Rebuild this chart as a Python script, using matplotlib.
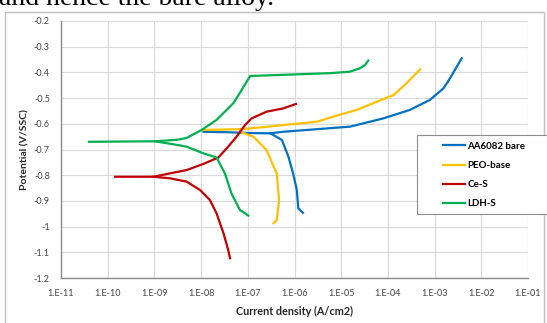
import matplotlib.pyplot as plt
import numpy as np
from matplotlib.patches import Rectangle

# %%
# polarisation curves: log10(current density) and potential (V/SSC)
bare_logi = [-7.95, -7.4, -6.95, -6.52, -6.24, -5.52, -4.81, -4.10, -3.53, -3.10, -2.81, -2.67, -2.42]
bare_v = [-0.631, -0.633, -0.636, -0.637, -0.631, -0.621, -0.611, -0.579, -0.546, -0.507, -0.462, -0.423, -0.345]
bare_cat_logi = [-6.52, -6.45, -6.27, -6.13, -6.03, -5.95, -5.92, -5.82]
bare_cat_v = [-0.637, -0.644, -0.663, -0.728, -0.793, -0.858, -0.929, -0.946]

peo_logi = [-7.95, -7.17, -6.95, -6.24, -5.52, -5.17, -4.67, -4.24, -3.88, -3.60, -3.31]
peo_v = [-0.624, -0.621, -0.618, -0.605, -0.592, -0.572, -0.546, -0.514, -0.488, -0.442, -0.388]
peo_cat_logi = [-7.17, -6.88, -6.60, -6.38, -6.33, -6.38, -6.45]
peo_cat_v = [-0.631, -0.650, -0.702, -0.793, -0.897, -0.974, -0.987]

ce_logi = [-9.84, -9.02, -8.67, -8.31, -7.95, -7.63, -7.42, -7.24, -7.06, -6.92, -6.60, -6.24, -5.97]
ce_v = [-0.806, -0.806, -0.793, -0.780, -0.756, -0.731, -0.689, -0.650, -0.605, -0.579, -0.553, -0.540, -0.523]
ce_cat_logi = [-9.02, -8.67, -8.31, -8.02, -7.81, -7.67, -7.52, -7.42, -7.38]
ce_cat_v = [-0.806, -0.812, -0.825, -0.858, -0.897, -0.948, -1.026, -1.091, -1.123]

ldh_logi = [-10.40, -8.99, -8.5, -8.31, -7.99, -7.67, -7.31, -7.13, -6.95, -5.24, -4.81, -4.60, -4.49, -4.42]
ldh_v = [-0.670, -0.668, -0.662, -0.655, -0.624, -0.585, -0.520, -0.468, -0.414, -0.403, -0.397, -0.384, -0.371, -0.354]
ldh_cat_logi = [-8.99, -8.52, -8.31, -7.95, -7.67, -7.49, -7.35, -7.17, -6.99]
ldh_cat_v = [-0.668, -0.682, -0.689, -0.715, -0.731, -0.793, -0.871, -0.935, -0.957]

names = ['AA6082 bare', 'PEO-base', 'Ce-S', 'LDH-S']
colors = ['#0070C0', '#FFC000', '#C00000', '#00B050']

x_ticks = [1e-11, 1e-10, 1e-9, 1e-8, 1e-7, 1e-6, 1e-5, 1e-4, 1e-3, 1e-2, 1e-1]
x_labels = ['1.E-11', '1.E-10', '1.E-09', '1.E-08', '1.E-07', '1.E-06',
            '1.E-05', '1.E-04', '1.E-03', '1.E-02', '1.E-01']
y_ticks = [-0.2, -0.3, -0.4, -0.5, -0.6, -0.7, -0.8, -0.9, -1.0, -1.1, -1.2]
y_labels = ['-0.2', '-0.3', '-0.4', '-0.5', '-0.6', '-0.7', '-0.8', '-0.9', '-1', '-1.1', '-1.2']

# %%
plt.rcParams['font.family'] = ['Lato', 'DejaVu Sans']
W, H = 547, 323
fig = plt.figure(figsize=(W / 100, H / 100), dpi=100)

# piece of the caption above the chart, cut off by the crop
fig.text(-1 / W, 1 - 5 / H, 'and hence the bare alloy.', family='Liberation Serif',
         fontsize=20, color='black', va='baseline', ha='left')
# chart frame
fig.patches.append(Rectangle((5 / W, -0.1), 539 / W, 1.1 - 12 / H, transform=fig.transFigure,
                             fill=False, edgecolor='#BFBFBF', lw=1.0))

ax = fig.add_axes([61 / W, 45 / H, 467 / W, 257 / H])

pairs = [((bare_logi, bare_v), (bare_cat_logi, bare_cat_v)),
         ((peo_logi, peo_v), (peo_cat_logi, peo_cat_v)),
         ((ce_logi, ce_v), (ce_cat_logi, ce_cat_v)),
         ((ldh_logi, ldh_v), (ldh_cat_logi, ldh_cat_v))]
for (an, cat), name, c in zip(pairs, names, colors):
    ax.plot(10 ** np.array(an[0]), an[1], color=c, lw=1.6, label=name)
    ax.plot(10 ** np.array(cat[0]), cat[1], color=c, lw=1.6)

ax.set_xscale('log')
ax.set_xlim(1e-11, 1e-1)
ax.set_ylim(-1.2, -0.2)
ax.set_xticks(x_ticks)
ax.set_xticklabels(x_labels)
ax.minorticks_off()
ax.set_yticks(y_ticks)
ax.set_yticklabels(y_labels)
ax.tick_params(length=0, labelsize=6.5, labelcolor='#404040', pad=8)
ax.grid(True, color='#D9D9D9', lw=0.8)
ax.set_axisbelow(True)
for s in ['top', 'right']:
    ax.spines[s].set_visible(False)
for s in ['left', 'bottom']:
    ax.spines[s].set_color('#8C8C8C')
    ax.spines[s].set_linewidth(1.0)

ax.set_xlabel('Current density (A/cm2)', fontsize=7.8, fontweight='bold', color='#262626', labelpad=6)
ax.set_ylabel('Potential (V/SSC)', fontsize=7.5, fontweight='bold', color='#262626', labelpad=3)

# legend frame drawn separately so the entries can sit inset like the original
fig.patches.append(Rectangle((417 / W, 1 - 214 / H), 140 / W, 79 / H, transform=fig.transFigure,
                             fill=True, facecolor='white', edgecolor='#8C8C8C', lw=0.8, zorder=5))
handles, labels = ax.get_legend_handles_labels()
leg = fig.legend(handles, labels, loc='upper left', bbox_to_anchor=(438 / W, 1 - 137 / H),
                 frameon=False, handlelength=2.3, handletextpad=0.2, labelspacing=1.05,
                 borderpad=0.0, prop={'size': 7, 'weight': 'bold'})
leg.set_zorder(6)

plt.savefig('out.png', dpi=100)
